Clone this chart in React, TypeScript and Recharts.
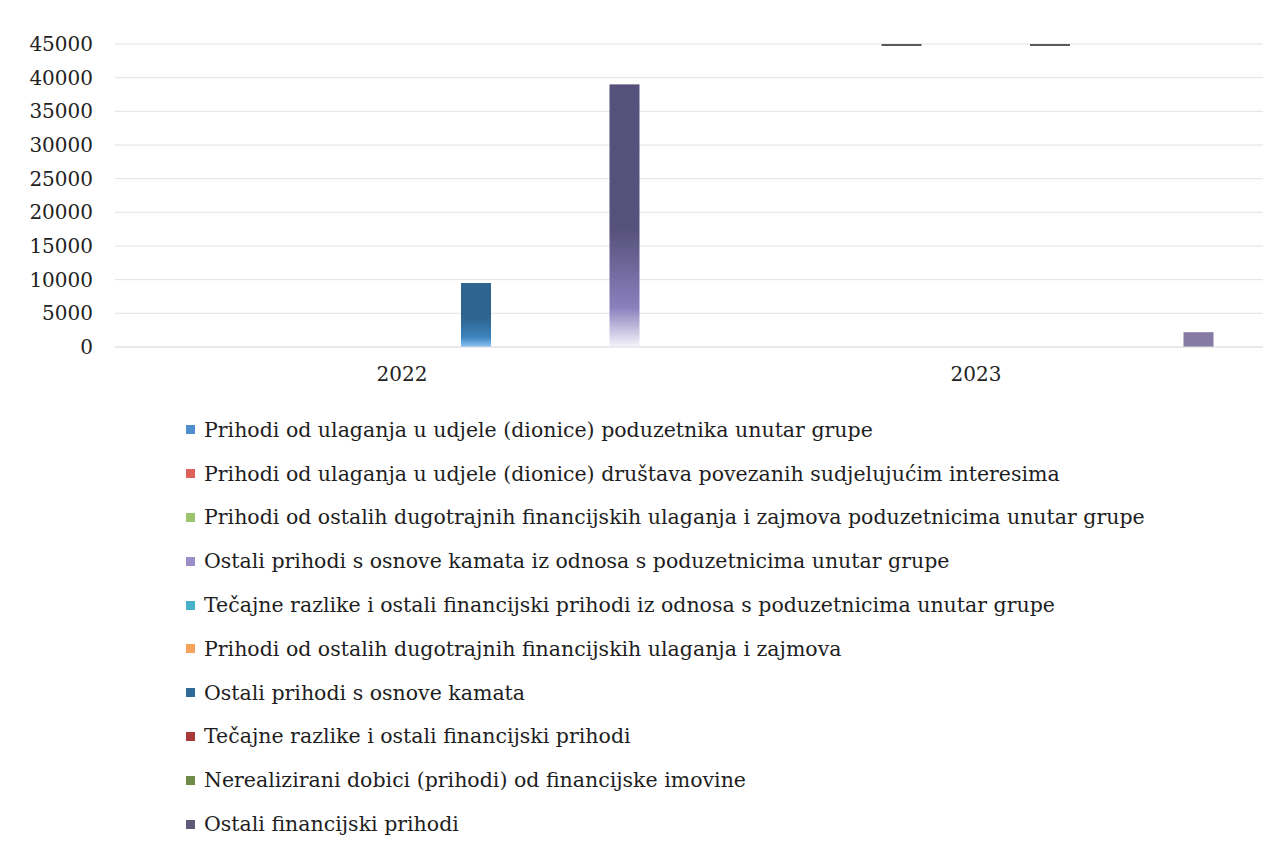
import React from "react";
import { BarChart, Bar, XAxis, YAxis, CartesianGrid, Legend, Cell } from "recharts";

const categories = ["2022", "2023"];

const seriesNames = [
  "Prihodi od ulaganja u udjele (dionice) poduzetnika unutar grupe",
  "Prihodi od ulaganja u udjele (dionice) društava povezanih sudjelujućim interesima",
  "Prihodi od ostalih dugotrajnih financijskih ulaganja i zajmova poduzetnicima unutar grupe",
  "Ostali prihodi s osnove kamata iz odnosa s poduzetnicima unutar grupe",
  "Tečajne razlike i ostali financijski prihodi iz odnosa s poduzetnicima unutar grupe",
  "Prihodi od ostalih dugotrajnih financijskih ulaganja i zajmova",
  "Ostali prihodi s osnove kamata",
  "Tečajne razlike i ostali financijski prihodi",
  "Nerealizirani dobici (prihodi) od financijske imovine",
  "Ostali financijski prihodi",
];

// values per series: [2022, 2023]
const s1 = [0, 0];
const s2 = [0, 0];
const s3 = [0, 0];
const s4 = [0, 52000];
const s5 = [0, 0];
const s6 = [0, 0];
const s7 = [9500, 50000];
const s8 = [0, 0];
const s9 = [0, 0];
const s10 = [39000, 2200];

const seriesValues = [s1, s2, s3, s4, s5, s6, s7, s8, s9, s10];

const legendColors = [
  "#4f8fd0",
  "#e0605a",
  "#9cc46c",
  "#9b8ec9",
  "#46b1c9",
  "#f7a35c",
  "#2f6a98",
  "#a83a3a",
  "#6e8b47",
  "#5f5a78",
];

// gradient stops per series: top, middle, bottom
const gradTop = ["#3f7fc0", "#d05050", "#8cb45c", "#6a6290", "#3a9fb8", "#e8934c", "#2d6590", "#983030", "#5e7b37", "#56517a"];
const gradMid = ["#5a9ae0", "#e87070", "#a8cc7c", "#8f82c2", "#5ac0d8", "#f8b07c", "#3f85bf", "#b84a4a", "#809c58", "#8a80bd"];
const gradBot = ["#d8e8f8", "#f8e0e0", "#e8f2dc", "#f2f0fa", "#dff2f7", "#fdeede", "#8cc4f4", "#f0dada", "#e4ecd8", "#f6f4fb"];

const yTicks = [0, 5000, 10000, 15000, 20000, 25000, 30000, 35000, 40000, 45000];
const yMax = 45000;

const data = categories.map((c, i) => {
  const row: Record<string, number | string> = { name: c };
  seriesValues.forEach((vals, k) => {
    row["s" + (k + 1)] = vals[i];
  });
  return row;
});

const FONT = "'DejaVu Serif', 'Liberation Serif', serif";

const BarShape = (props: any) => {
  const { x, y, width, height, fill, background, value } = props;
  if (!height || height <= 0) return null;
  const v = Array.isArray(value) ? value[1] - value[0] : value;
  if (v > yMax && background) {
    return (
      <line
        x1={x - 5}
        x2={x + width + 5}
        y1={background.y + 1}
        y2={background.y + 1}
        stroke="#5a5a5a"
        strokeWidth={2}
      />
    );
  }
  return <rect x={x} y={y} width={width} height={height} fill={fill} />;
};

const LegendContent = () => (
  <div style={{ fontFamily: FONT, fontSize: 20.5, color: "#1e1e1e" }}>
    {seriesNames.map((n, i) => (
      <div key={n} style={{ height: 43.8, display: "flex", alignItems: "center", whiteSpace: "nowrap" }}>
        <span
          style={{
            display: "inline-block",
            width: 9,
            height: 9,
            background: legendColors[i],
            marginRight: 9,
          }}
        />
        <span>{n}</span>
      </div>
    ))}
  </div>
);

export default function App() {
  return (
    <div style={{ width: 1264, height: 836, background: "#fff" }}>
      <BarChart
        width={1264}
        height={836}
        data={data}
        margin={{ top: 36, right: 9, left: 0, bottom: 457 }}
        barSize={30}
        barGap={19.5}
      >
        <defs>
          {gradTop.map((t, i) => (
            <linearGradient key={i} id={"g" + i} x1="0" y1="0" x2="0" y2="1">
              <stop offset="0%" stopColor={t} />
              <stop offset="55%" stopColor={t} />
              <stop offset="85%" stopColor={gradMid[i]} />
              <stop offset="100%" stopColor={gradBot[i]} />
            </linearGradient>
          ))}
        </defs>
        <CartesianGrid vertical={false} stroke="#e2e2e2" />
        <XAxis
          dataKey="name"
          height={40}
          tickSize={0}
          tickMargin={20}
          axisLine={{ stroke: "#e2e2e2" }}
          tickLine={false}
          tick={{ fontFamily: FONT, fontSize: 20, fill: "#222" }}
        />
        <YAxis
          width={107}
          domain={[0, yMax]}
          ticks={yTicks}
          allowDataOverflow
          tickSize={0}
          tickMargin={22}
          axisLine={false}
          tickLine={false}
          interval={0}
          tick={{ fontFamily: FONT, fontSize: 20, fill: "#222" }}
        />
        <Legend
          verticalAlign="middle"
          layout="horizontal"
          content={LegendContent}
          wrapperStyle={{ top: 400, left: 178, width: 1050, height: 440 }}
        />
        {seriesNames.map((n, i) => (
          <Bar
            key={n}
            dataKey={"s" + (i + 1)}
            name={n}
            fill={`url(#g${i})`}
            isAnimationActive={false}
            shape={BarShape}
          >
            {i === 9
              ? data.map((d, j) => <Cell key={j} fill={j === 0 ? `url(#g${i})` : "#857ba3"} />)
              : null}
          </Bar>
        ))}
      </BarChart>
    </div>
  );
}
